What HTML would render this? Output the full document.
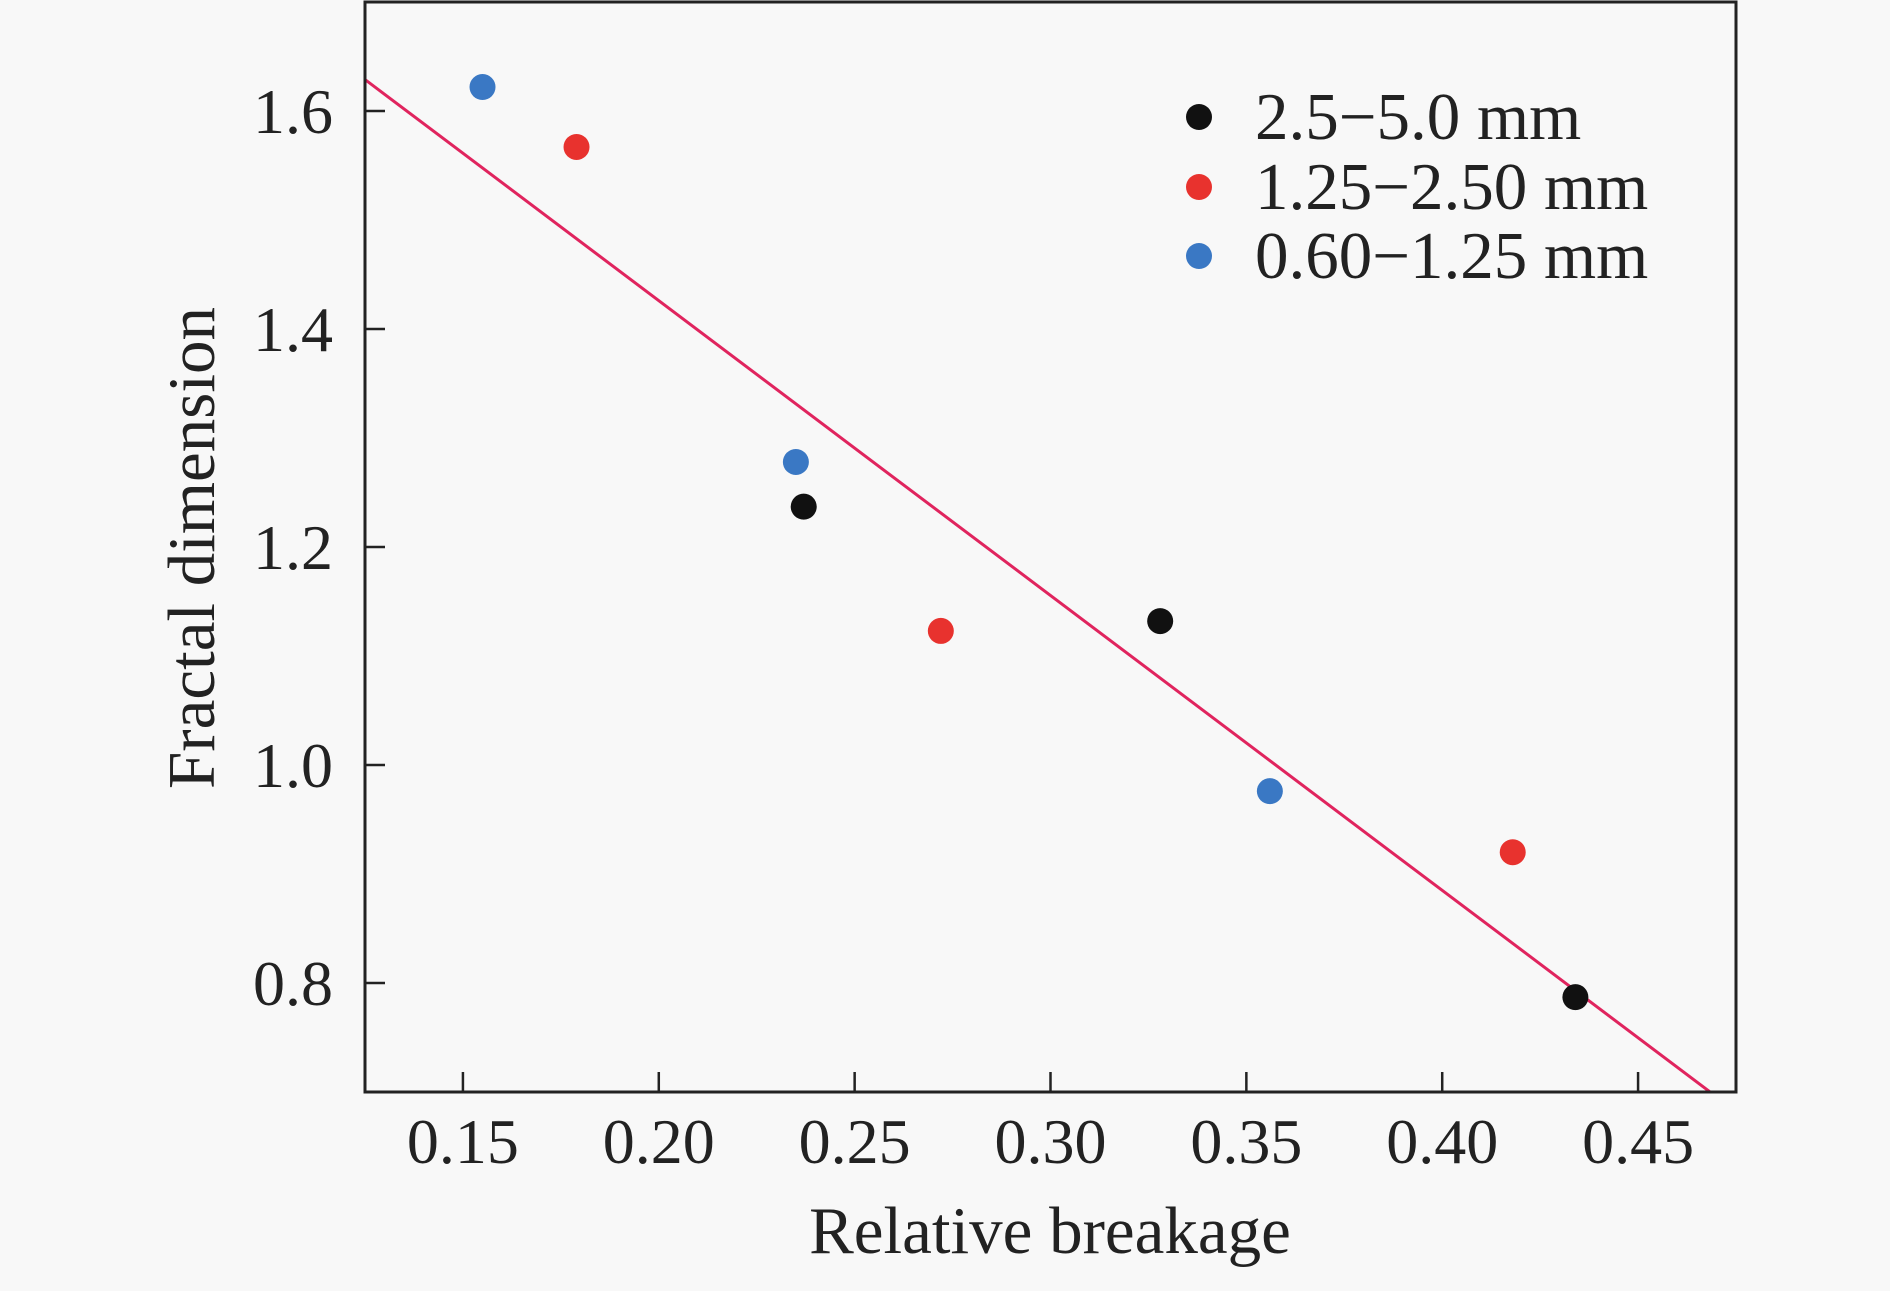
<!DOCTYPE html>
<html><head><meta charset="utf-8"><style>
html,body{margin:0;padding:0;background:#f8f8f8;}
svg{display:block;font-family:"Liberation Serif",serif;}
</style></head><body>
<svg id="chart" width="1890" height="1291" viewBox="0 0 1890 1291" xmlns="http://www.w3.org/2000/svg">
<rect x="0" y="0" width="1890" height="1291" fill="#f8f8f8"/>
<g id="plot"></g>
</svg>
<script>
const xTicks = [0.15, 0.20, 0.25, 0.30, 0.35, 0.40, 0.45];
const xTickLabels = ["0.15","0.20","0.25","0.30","0.35","0.40","0.45"];
const yTicks = [0.8, 1.0, 1.2, 1.4, 1.6];
const yTickLabels = ["0.8","1.0","1.2","1.4","1.6"];
const seriesNames = ["2.5\u22125.0 mm", "1.25\u22122.50 mm", "0.60\u22121.25 mm"];
const seriesColors = ["#111111", "#e8322e", "#3a78c4"];
const blackX = [0.237, 0.328, 0.434];
const blackY = [1.237, 1.132, 0.787];
const redX = [0.179, 0.272, 0.418];
const redY = [1.567, 1.123, 0.920];
const blueX = [0.155, 0.235, 0.356];
const blueY = [1.622, 1.278, 0.976];
const fitSlope = -2.705;
const fitIntercept = 1.967;

const L=365, R=1736, T=2, B=1092;
const xMin=0.125, xMax=0.475, yMin=0.7, yMax=1.7;
const sx = v => L + (v-xMin)/(xMax-xMin)*(R-L);
const sy = v => B - (v-yMin)/(yMax-yMin)*(B-T);
const NS="http://www.w3.org/2000/svg";
const g=document.getElementById('plot');
function mk(tag, attrs){const e=document.createElementNS(NS,tag);for(const k in attrs)e.setAttribute(k,attrs[k]);g.appendChild(e);return e;}

const clip=document.createElementNS(NS,'clipPath');clip.setAttribute('id','pc');
const cr=document.createElementNS(NS,'rect');cr.setAttribute('x',L);cr.setAttribute('y',T);cr.setAttribute('width',R-L);cr.setAttribute('height',B-T);clip.appendChild(cr);g.appendChild(clip);
const x0=xMin, x1=xMax;
const fit=mk('line',{x1:sx(x0),y1:sy(fitSlope*x0+fitIntercept),x2:sx(x1),y2:sy(fitSlope*x1+fitIntercept),stroke:'#e0245e','stroke-width':3,'clip-path':'url(#pc)'});



const all=[[blackX,blackY],[redX,redY],[blueX,blueY]];
const snames=['black-series','red-series','blue-series'];
all.forEach((s,i)=>{
  s[0].forEach((xv,j)=>{
    const c=mk('circle',{cx:sx(xv),cy:sy(s[1][j]),r:13,fill:seriesColors[i]});
    
    
  });
});

const frame=mk('rect',{x:L,y:T,width:R-L,height:B-T,fill:'none',stroke:'#222','stroke-width':3});



xTicks.forEach((v,i)=>{
  const t=mk('line',{x1:sx(v),y1:B,x2:sx(v),y2:B-20,stroke:'#222','stroke-width':2.5});
  
  
  const l=mk('text',{x:sx(v),y:1163,'text-anchor':'middle','font-size':64,fill:'#222'});
  l.textContent=xTickLabels[i];
  
  
});
yTicks.forEach((v,i)=>{
  const t=mk('line',{x1:L,y1:sy(v),x2:L+20,y2:sy(v),stroke:'#222','stroke-width':2.5});
  
  
  const l=mk('text',{x:333,y:sy(v)+22,'text-anchor':'end','font-size':64,fill:'#222'});
  l.textContent=yTickLabels[i];
  
  
});

const xt=mk('text',{x:1050,y:1253,'text-anchor':'middle','font-size':67,fill:'#222'});
xt.textContent='Relative breakage';


const yt=mk('text',{x:0,y:0,'text-anchor':'middle','font-size':67,fill:'#222',transform:'translate(214,548) rotate(-90)'});
yt.textContent='Fractal dimension';



const legY=[117,187,256];
seriesNames.forEach((n,i)=>{
  const c=mk('circle',{cx:1199,cy:legY[i],r:13,fill:seriesColors[i]});
  
  
  const t=mk('text',{x:1255,y:legY[i]+22,'font-size':67,fill:'#222'});
  t.textContent=n;
  
  
});
</script>
</body></html>
